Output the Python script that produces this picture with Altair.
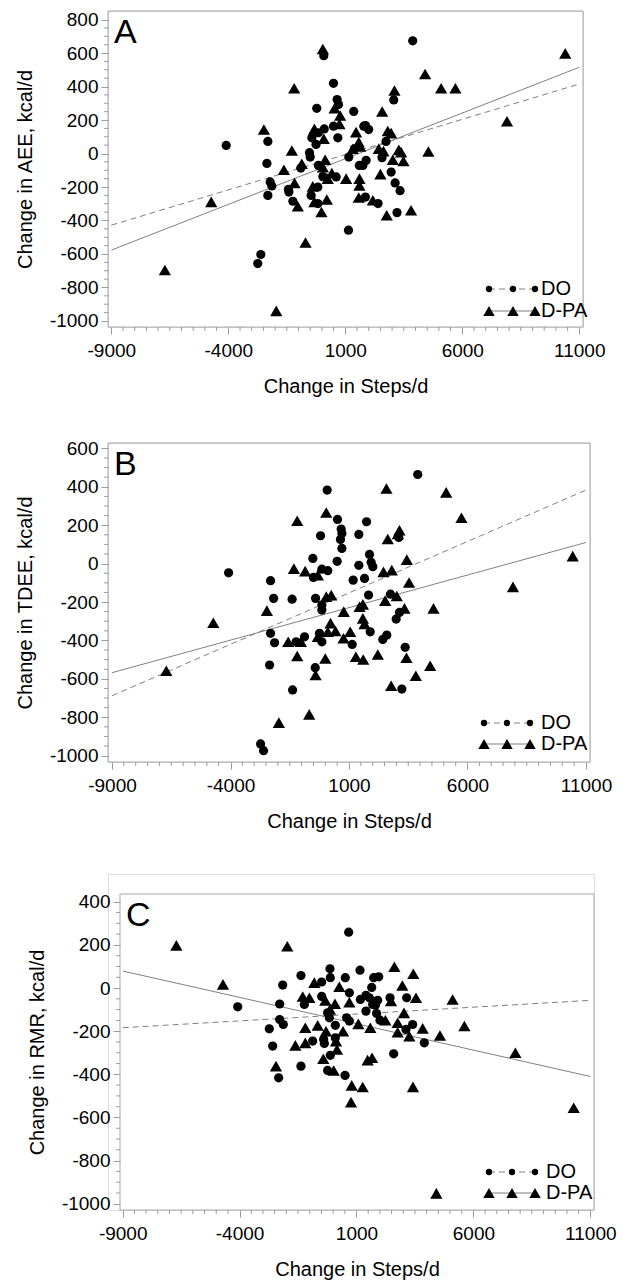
import altair as alt
import pandas as pd

FONT = "Liberation Sans"

# ---------------- data ----------------
A_DO_X = [3880, 80, 495, 650, 710, -220, 1360, 3070, -4090, -2310, -2350, -2210, -2140, -2310,
          -1430, -1410, -1240, -900, -530, -500, -430, -250, -150, 100, -150, 40, -175, -460,
          -175, 610, 495, 680, 1135, 1150, 1390, 1600, 1790, 1860, 2000, 1890, 1750, 1860,
          2400, 2570, 2740, 2960, 3130, 3340, 3210, -2610, -2740]
A_DO_Y = [673, 584, 419, 322, 292, 270, 251, 320, 48, 72, -59, -170, -194, -250,
          -214, -230, -285, -87, 5, -21, 94, 54, 124, 147, -71, -138, -200, -250,
          -299, -140, 163, 94, -458, -21, 28, -71, 163, 167, 143, -41, -71, -260,
          -299, -25, 72, -111, -176, -222, -353, -603, -657]
A_DPA_X = [40, -6710, -4730, -1950, -1185, -2480, -1285, -1625, -1170, -1030, -700, -860, -320,
           80, 140, -390, -320, -20, 210, 250, 40, 425, 540, 780, 750, 1035, 1320, 1460, 1575,
           1635, 1605, 1605, 1575, 2175, 2575, 2430, 2630, 2500, 2770, 2815, 2960, 3100, 3030,
           3285, 3385, 3485, 3810, 4410, 4550, 5095, 5705, 7910, 10400]
A_DPA_Y = [624, -696, -289, -940, 390, 143, 18, -97, -176, -315, -531, -61, 147,
           88, -37, -196, -289, -349, -275, -150, -81, -117, 270, 227, 177, -150, 28, 128, 68,
           42, -150, -190, -263, -279, 251, 28, 14, -123, -369, 134, 122, 376, -37,
           22, 8, -45, -339, 475, 12, 390, 390, 193, 598]

B_DO_X = [3900, 80, 515, 1740, -200, 670, 700, 640, 700, 1415, -525, -145, 105, -500, 500, 1415,
          1865, 1935, 2005, -4080, -2310, -2180, -1400, -410, -145, -145, 1175, 1655, 1825, 2750,
          -2310, -2140, -1230, -875, -245, -145, 1135, 1895, 2425, 2595, 2990, 3130, 3370, -2350,
          -425, -1380, 3230, -2730, -2605, 3100]
B_DO_Y = [464, 383, 230, 218, 145, 180, 157, 126, 79, 152, 27, -29, -37, -72, 12, -9,
          48, 7, -16, -48, -89, -181, -185, -181, -216, -242, -86, -77, -164, -159,
          -363, -412, -407, -381, -363, -407, -421, -355, -395, -372, -289, -254, -436, -528,
          -542, -658, -653, -939, -974, 136]
B_DPA_X = [2580, 5100, 5745, 40, -1185, 2635, 3060, 3130, -1325, -850, -315, 2455, 2805, 3440,
           3535, 10440, 7920, 40, 250, 2525, 3015, 3340, 4565, -2465, -4725, -6710, 780, 1445,
           1585, 1585, 1655, 220, 105, 430, -315, -1565, -1030, 1050, 770, -1185, 0, 1290, 1600,
           2215, 3425, 4425, -410, 3820, 2780, -680, -1960]
B_DPA_Y = [391, 371, 239, 266, 223, 128, 154, 174, -26, -39, -60, -43, -34, 21,
           -98, 39, -121, -172, -164, -193, -169, -233, -233, -245, -308, -558, -250, -225,
           -212, -285, -314, -310, -355, -351, -381, -407, -407, -355, -389, -481, -494, -485, -499,
           -473, -490, -532, -580, -584, -636, -785, -828]

C_DO_X = [665, -135, 1150, -1375, -120, 520, -490, 1735, 1950, -2155, 1650, 695, -490, -1230,
          -2285, -4080, 1165, 1405, 1550, 1690, 1905, 1805, 1405, 1860, 2005, 2435, 3145, 3400,
          3115, 3900, 2590, -235, -160, 95, 580, 695, -2285, -2130, -2730, -2585, -875, -405,
          -375, 95, -120, -1375, -235, 510, -2330]
C_DO_Y = [259, 89, 83, 58, 48, 48, 28, 48, 52, 14, 3, -22, -39, -76,
          -74, -87, -53, -34, -45, -76, -57, -80, -107, -118, -149, -45, -45, -169,
          -192, -254, -305, -115, -138, -173, -138, -153, -146, -169, -189, -269, -246, -238,
          -257, -231, -312, -362, -382, -405, -416]
C_DPA_X = [-6705, -1960, -4710, 2620, 3430, 2960, -805, 265, -1300, -1015, -335, 80, 695, 2475,
           3545, 5110, 3030, 2760, 2235, 1080, 1590, -660, -1190, 3830, 5615, 425, -305, 2760,
           3260, 4570, -1615, -1190, 125, 165, -420, 25, -2445, 1475, 1665, 795, 1265, 3415,
           765, 7795, 10290, 4415, -135]
C_DPA_Y = [198, 194, 17, 99, 66, 12, 25, 6, -39, -45, -57, -73, -66, -60,
           -45, -53, -115, -161, -149, -166, -184, -173, -184, -187, -176, -200, -200, -205,
           -223, -220, -266, -254, -246, -285, -328, -382, -362, -334, -323, -451, -459, -458,
           -529, -300, -555, -952, -99]

# fitted regression lines (end points at the x-axis limits)
FIT_X = [-9000, 11000]
A_DO_FIT = [-428, 415]
A_DPA_FIT = [-577, 515]
B_DO_FIT = [-688, 383]
B_DPA_FIT = [-568, 110]
C_DO_FIT = [-184, -57]
C_DPA_FIT = [79, -410]

GROUPS = ["DO", "D-PA"]
X_MAJOR = [-9000, -4000, 1000, 6000, 11000]
X_MINOR = [v for v in range(-9000, 11001, 500) if v not in X_MAJOR]
X_TITLE = "Change in Steps/d"

GRAY = "#9c9c9c"
FRAME = "#a8a8a8"
LINE_GRAY = "#808080"


def make_panel(letter, ytitle, do_x, do_y, dpa_x, dpa_y, do_fit, dpa_fit,
               xdom, ydom, ymin, ymax, w, h, leg, dx=0, dy=0):
    y_major = list(range(ymin, ymax + 1, 200))
    y_minor = [v for v in range(ymin, ymax + 1, 50) if v not in y_major]
    xaxis = alt.Axis(
        title=X_TITLE, values=X_MAJOR, labelExpr="'' + datum.value",
        tickSize=7, tickColor=GRAY, domain=False, grid=False,
        labelFont=FONT, labelFontSize=19, labelColor="black", labelPadding=7,
        titleFont=FONT, titleFontSize=20, titleFontWeight="normal", titleColor="black",
        titlePadding=16,
    )
    yaxis = alt.Axis(
        title=ytitle, values=y_major, labelExpr="'' + datum.value",
        tickSize=7, tickColor=GRAY, domain=False, grid=False, offset=-dx,
        labelFont=FONT, labelFontSize=19, labelColor="black", labelPadding=3,
        titleFont=FONT, titleFontSize=20, titleFontWeight="normal", titleColor="black",
        titlePadding=14,
    )
    xs = alt.Scale(domain=xdom, range=[dx, dx + w], nice=False, zero=False)
    ys = alt.Scale(domain=ydom, range=[dy + h, dy], nice=False, zero=False)

    def X(f):
        return alt.X(f, scale=xs, axis=xaxis)

    def Y(f):
        return alt.Y(f, scale=ys, axis=yaxis)

    df_do = pd.DataFrame({"x": do_x, "y": do_y, "g": GROUPS[0]})
    df_dpa = pd.DataFrame({"x": dpa_x, "y": dpa_y, "g": GROUPS[1]})
    fit_do = pd.DataFrame({"x": FIT_X, "y": do_fit})
    fit_dpa = pd.DataFrame({"x": FIT_X, "y": dpa_fit})
    one = pd.DataFrame({"k": [0]})
    frame_df = pd.DataFrame({"x0": [xdom[0]], "x1": [xdom[1]], "y0": [ydom[0]], "y1": [ydom[1]]})

    layers = []
    # frame of the plot area, drawn at the scale limits
    layers.append(alt.Chart(frame_df).mark_rect(filled=False, color=FRAME, strokeWidth=1).encode(
        x=X("x0:Q"), x2="x1:Q", y=Y("y0:Q"), y2="y1:Q"))
    # minor ticks
    y_bot = dy + h
    layers.append(alt.Chart(pd.DataFrame({"v": X_MINOR})).mark_rule(color=GRAY, strokeWidth=1).encode(
        x=X("v:Q"), y=alt.value(y_bot), y2=alt.value(y_bot + 4)))
    layers.append(alt.Chart(pd.DataFrame({"v": y_minor})).mark_rule(color=GRAY, strokeWidth=1).encode(
        y=Y("v:Q"), x=alt.value(dx), x2=alt.value(dx - 4)))
    # regression lines
    layers.append(alt.Chart(fit_do).mark_line(color=LINE_GRAY, strokeWidth=1, strokeDash=[6, 4]).encode(
        x=X("x:Q"), y=Y("y:Q")))
    layers.append(alt.Chart(fit_dpa).mark_line(color=LINE_GRAY, strokeWidth=1).encode(
        x=X("x:Q"), y=Y("y:Q")))
    # points
    layers.append(alt.Chart(df_do).mark_point(shape="circle", filled=True, color="black", size=85, opacity=1).encode(
        x=X("x:Q"), y=Y("y:Q")))
    layers.append(alt.Chart(df_dpa).mark_point(shape="triangle-up", filled=True, color="black", size=150, opacity=1).encode(
        x=X("x:Q"), y=Y("y:Q")))
    # panel letter
    layers.append(alt.Chart(one).mark_text(align="left", baseline="top", fontSize=34, font=FONT, color="black").encode(
        x=alt.value(dx + 6), y=alt.value(dy + 5), text=alt.value(letter)))

    # in-plot legend
    lx, ly, tx = leg
    specs = [(GROUPS[0], "circle", 40, [6, 4], ly[0]), (GROUPS[1], "triangle-up", 130, None, ly[1])]
    for label, shape, size, dash, yy in specs:
        rule_kw = dict(color=LINE_GRAY, strokeWidth=1)
        if dash:
            rule_kw["strokeDash"] = dash
        layers.append(alt.Chart(one).mark_rule(**rule_kw).encode(
            x=alt.value(dx + lx[0]), x2=alt.value(dx + lx[2]), y=alt.value(dy + yy)))
        for px in lx:
            layers.append(alt.Chart(one).mark_point(shape=shape, filled=True, color="black", size=size, opacity=1).encode(
                x=alt.value(dx + px), y=alt.value(dy + yy)))
        layers.append(alt.Chart(one).mark_text(align="left", baseline="middle", fontSize=20, font=FONT, color="black").encode(
            x=alt.value(dx + tx), y=alt.value(dy + yy), text=alt.value(label)))

    return alt.layer(*layers).properties(width=w + dx, height=h + dy)


panel_a = make_panel("A", "Change in AEE, kcal/d", A_DO_X, A_DO_Y, A_DPA_X, A_DPA_Y, A_DO_FIT, A_DPA_FIT,
                     [-9141, 11158], [-1036, 851], -1000, 800, 475, 316,
                     ([381, 405, 427], [278, 300], 433))
panel_b = make_panel("B", "Change in TDEE, kcal/d", B_DO_X, B_DO_Y, B_DPA_X, B_DPA_Y, B_DO_FIT, B_DPA_FIT,
                     [-9169, 11169], [-1033, 628], -1000, 600, 482, 319,
                     ([376, 399, 422], [280, 301], 433))
panel_c = make_panel("C", "Change in RMR, kcal/d", C_DO_X, C_DO_Y, C_DPA_X, C_DPA_Y, C_DO_FIT, C_DPA_FIT,
                     [-9115, 11158], [-1029, 436], -1000, 400, 474, 316,
                     ([369, 392, 415], [278, 299], 426), dx=12, dy=20)

chart = alt.vconcat(panel_a, panel_b, panel_c, spacing=41).properties(
    padding={"left": 6, "top": 2, "right": 4, "bottom": 4}
).configure_view(stroke="transparent", strokeWidth=0).configure(background="white")

chart.save("out.html", embed_options={"renderer": "svg", "actions": False})
